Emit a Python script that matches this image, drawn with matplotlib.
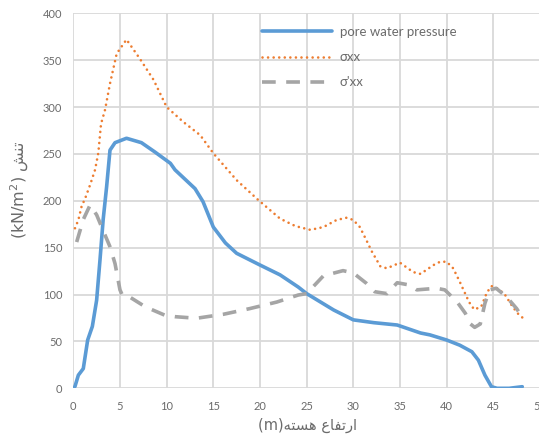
import matplotlib.pyplot as plt

# pore water pressure (blue)
pwp_x = [0, 0.18, 0.54, 1.07, 1.54, 2.04, 2.5, 2.86, 3.2, 3.57, 3.93, 4.47, 5.7, 7.3, 8.75,
         10.4, 10.9, 13.04, 13.9, 15, 16.3, 17.5, 20, 22.15, 24.1, 25, 27.9, 30, 32.2, 34.7,
         37.2, 38.2, 40, 41.4, 42.7, 43.4, 44.1, 44.8, 45.4, 46.7, 48.1]
pwp_y = [0, 2, 14, 21, 51.5, 66, 94, 137, 180, 215, 254, 262, 266.7, 262, 252,
         240, 233, 213, 199, 172, 155, 144, 131.5, 121, 108, 101, 83.5, 73, 70, 67.5,
         59, 57, 51.5, 46, 39, 30, 14, 1.7, 0, 0, 1.7]

# sigma xx (orange)
sxx_x = [0.18, 0.54, 0.9, 1.25, 1.8, 2.33, 2.68, 2.97, 3.4, 3.93, 4.65, 5.7, 7.1, 8.6, 10,
         11.8, 13.6, 15, 17.5, 19.8, 22.15, 23.8, 25.4, 26.8, 28.2, 29.3, 30, 30.7, 31.4,
         31.98, 32.9, 33.6, 35, 36.4, 37.2, 38.6, 39.3, 40, 40.7, 41.4, 41.8, 42.4, 42.95,
         43.7, 44.3, 44.8, 45.4, 46.2, 47, 47.6, 48.2]
sxx_y = [170.7, 179.5, 194.5, 202, 217, 233, 251, 282, 297, 325, 357, 372, 352, 329, 300,
         284, 270, 250.7, 222, 201, 181, 173, 169, 172, 179.5, 182, 179.5, 172, 158,
         146, 130, 128, 134, 124, 122, 131.5, 135, 135, 128, 113.7, 105, 92, 84,
         87, 102, 109, 106.7, 100.6, 88, 80, 74.7]

# sigma' xx (gray)
seff_x = [0.36, 1.07, 1.8, 2.5, 3.04, 3.93, 4.47, 5, 5.25, 5.7, 7.7, 9.8, 10.9, 13.2, 16.1,
          18.9, 21.8, 24.1, 25, 26.8, 28.9, 30, 31.4, 32.3, 33.6, 34.7, 36.1, 36.8, 38.9,
          39.8, 41.1, 42, 42.5, 43, 43.6, 44.1, 44.6, 45.3, 46.4, 47.5, 48.2]
seff_y = [156, 180, 195.5, 185, 172, 151, 133, 105, 99.5, 99.5, 87, 78, 76.4, 74.7, 79,
          85, 92, 99.5, 101, 120, 125.5, 123, 112, 103, 101, 112.6, 110, 105, 106.7,
          105, 92.4, 80, 69, 65, 68.6, 90.7, 105, 106.7, 97.7, 85, 74]

x_ticks = list(range(0, 51, 5))
y_ticks = list(range(0, 401, 50))

txt = '#6b6b6b'
grid_c = '#d9d9d9'
plt.rcParams['font.family'] = ['Lato', 'DejaVu Sans']

fig = plt.figure(figsize=(5.39, 4.36), dpi=100)
W, H = 539, 436
ax = fig.add_axes([73.3 / W, 47.7 / H, 466.7 / W, 375 / H])

ax.plot(pwp_x, pwp_y, color='#5B9BD5', lw=2.6, label='pore water pressure',
        solid_joinstyle='round', solid_capstyle='round', zorder=3)
l2, = ax.plot(sxx_x, sxx_y, color='#ED7D31', lw=1.9, label='σxx', zorder=3)
l2.set_dashes([0.01, 2.1])
l2.set_dash_capstyle('round')
l3, = ax.plot(seff_x, seff_y, color='#A5A5A5', lw=2.6, label="σ'xx", zorder=3)
l3.set_dashes([3.8, 2.9])

ax.set_xlim(0, 50)
ax.set_ylim(0, 400)
ax.set_xticks(x_ticks)
ax.set_yticks(y_ticks)
ax.grid(True, color=grid_c, lw=1.3)
ax.set_axisbelow(True)
for s in ax.spines.values():
    s.set_visible(False)
ax.tick_params(length=0, labelsize=8, labelcolor=txt)
ax.tick_params(axis='x', pad=9)
ax.tick_params(axis='y', pad=8)

leg = ax.legend(loc='upper left', bbox_to_anchor=(262 / W, 1 - 26 / H),
                bbox_transform=fig.transFigure, frameon=False, fontsize=9.5,
                handlelength=5.3, handletextpad=0.6, labelspacing=1.0,
                borderpad=0, borderaxespad=0)
for t in leg.get_texts():
    t.set_color(txt)

# Persian labels (presentation forms, visual order)
fig.text(307 / W, 1 - 425 / H, '(m)\uFEEA\uFE98\uFEB4\uFEEB \uFEC9\uFE8E\uFED4\uFE97\uFEAD\uFE8D',
         ha='center', va='center', fontsize=10.5, color=txt,
         family=['DejaVu Sans'])
fig.text(20 / W, 1 - 190 / H, '(kN/m$^2$) \uFEB6\uFEE8\uFE97', rotation=90,
         ha='center', va='center', fontsize=11.5, color=txt,
         family=['DejaVu Sans'])

fig.savefig('out.png', dpi=100)
